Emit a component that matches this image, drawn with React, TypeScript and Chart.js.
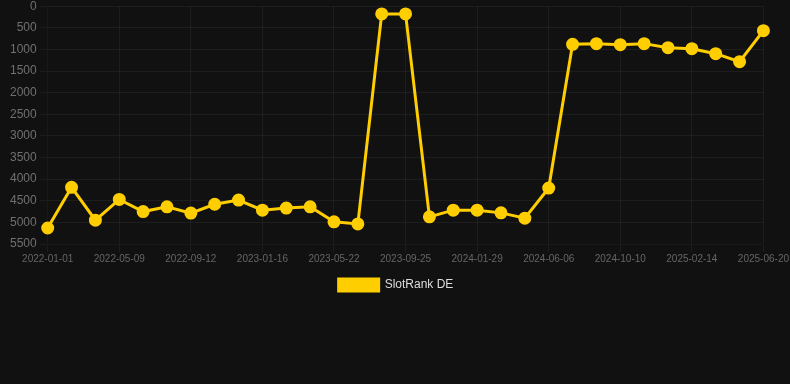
import React, { useEffect, useRef } from "react";
import { Chart, registerables } from "chart.js";

Chart.register(...registerables);

const labels: string[] = [
  "2022-01-01", "2022-02-12", "2022-03-26",
  "2022-05-09", "2022-06-20", "2022-08-01",
  "2022-09-12", "2022-10-24", "2022-12-05",
  "2023-01-16", "2023-02-27", "2023-04-10",
  "2023-05-22", "2023-07-03", "2023-08-14",
  "2023-09-25", "2023-11-06", "2023-12-18",
  "2024-01-29", "2024-03-11", "2024-04-22",
  "2024-06-06", "2024-07-18", "2024-08-29",
  "2024-10-10", "2024-11-21", "2025-01-02",
  "2025-02-14", "2025-03-28", "2025-05-09",
  "2025-06-20",
];

const slotRankDE: number[] = [
  5130, 4190, 4950, 4470, 4750, 4640, 4785, 4580, 4485, 4717,
  4670, 4640, 4988, 5035, 178, 178, 4872, 4717, 4717, 4780,
  4903, 4206, 882, 866, 889, 866, 959, 982, 1098, 1284, 565,
];

const seriesName = "SlotRank DE";
const yMin = 0;
const yMax = 5500;
const yStep = 500;

export default function App() {
  const ref = useRef<HTMLCanvasElement | null>(null);

  useEffect(() => {
    document.body.style.margin = "0";
    document.body.style.background = "#111111";
    const canvas = ref.current;
    if (!canvas) return;
    Chart.defaults.font.family = "'Liberation Sans', Arial, Helvetica, sans-serif";
    const gold = "rgb(255, 206, 0)";
    const chart = new Chart(canvas, {
      type: "line",
      data: {
        labels,
        datasets: [
          {
            label: seriesName,
            data: slotRankDE,
            borderColor: gold,
            backgroundColor: gold,
            pointBackgroundColor: gold,
            pointBorderColor: gold,
            borderWidth: 3,
            pointRadius: 5,
            tension: 0,
          },
        ],
      },
      options: {
        animation: false,
        responsive: false,
        maintainAspectRatio: false,
        layout: { padding: { left: 7, right: 5 } },
        scales: {
          x: {
            grid: { color: "rgba(255,255,255,0.05)" },
            ticks: { color: "#666", font: { size: 10 }, maxRotation: 0, autoSkip: true, padding: 1 },
          },
          y: {
            reverse: true,
            min: yMin,
            max: yMax,
            grid: { color: "rgba(255,255,255,0.05)" },
            ticks: {
              color: "#707070",
              font: { size: 12 },
              stepSize: yStep,
              callback: (v: any) => String(v),
            },
          },
        },
        plugins: {
          legend: {
            position: "bottom",
            labels: { color: "#ddd", font: { size: 12 }, boxWidth: 40, boxHeight: 12, padding: 13 },
          },
          tooltip: { enabled: false },
        },
      },
    });
    return () => chart.destroy();
  }, []);

  return (
    <div style={{ width: 790, height: 384, background: "#111111", overflow: "hidden" }}>
      <canvas ref={ref} width={790} height={305} style={{ display: "block", marginTop: -4 }} />
    </div>
  );
}
